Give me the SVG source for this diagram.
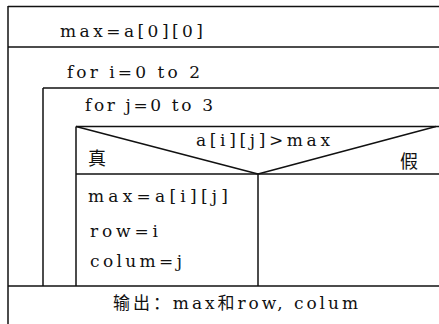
<svg xmlns="http://www.w3.org/2000/svg" width="439" height="324" viewBox="0 0 439 324">
<style>
.l{stroke:#111;stroke-width:1.5;fill:none}
.t{font-family:"DejaVu Serif","Noto Sans CJK SC",serif;font-size:17px;fill:#111}
.c{font-family:"Noto Sans CJK SC",serif;font-size:18px;fill:#111}
</style>
<rect width="439" height="324" fill="#fff"/>
<g id="connectors">
<line class="l" x1="8" y1="6.5" x2="439" y2="6.5"/>
<line class="l" x1="8" y1="6" x2="8" y2="324"/>
<line class="l" x1="8" y1="47" x2="439" y2="47"/>
<line class="l" x1="43" y1="88" x2="439" y2="88"/>
<line class="l" x1="43" y1="88" x2="43" y2="286"/>
<line class="l" x1="76" y1="126.5" x2="439" y2="126.5"/>
<line class="l" x1="76" y1="126.5" x2="76" y2="286"/>
<line class="l" x1="76" y1="174" x2="439" y2="174"/>
<line class="l" x1="76" y1="126.5" x2="258" y2="174"/>
<line class="l" x1="258" y1="174" x2="436" y2="126.5"/>
<line class="l" x1="258" y1="174" x2="258" y2="286"/>
<line class="l" x1="8" y1="286" x2="439" y2="286"/>
</g>
<g id="n1"><text class="t" x="60" y="37" textLength="143" lengthAdjust="spacing">max=a[0][0]</text></g>
<g id="n2"><text class="t" x="67" y="78" textLength="133" lengthAdjust="spacing">for i=0 to 2</text></g>
<g id="n3"><text class="t" x="85" y="111" textLength="128" lengthAdjust="spacing">for j=0 to 3</text></g>
<g id="n4">
<text class="t" x="196" y="146" textLength="134" lengthAdjust="spacing">a[i][j]&gt;max</text>
<text class="c" x="88" y="165">真</text>
<text class="c" x="400" y="168">假</text>
</g>
<g id="n5">
<text class="t" x="88" y="202" textLength="140" lengthAdjust="spacing">max=a[i][j]</text>
<text class="t" x="90" y="237" textLength="68" lengthAdjust="spacing">row=i</text>
<text class="t" x="90" y="267" textLength="92" lengthAdjust="spacing">colum=j</text>
</g>
<g id="n6"><text class="t" x="113" y="309" textLength="245" lengthAdjust="spacing">输出：max和row, colum</text></g>
</svg>
